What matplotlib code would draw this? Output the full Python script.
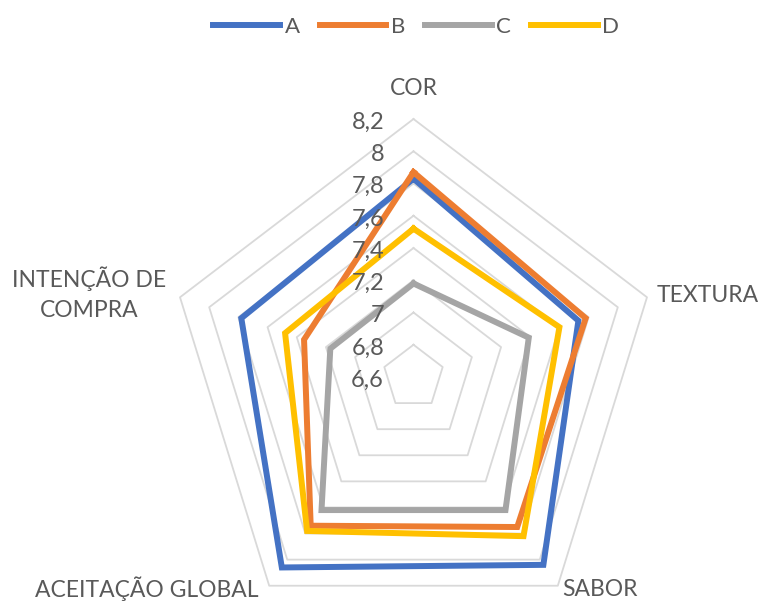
import numpy as np
import matplotlib
matplotlib.use("Agg")
import matplotlib.pyplot as plt

# Sensory attribute scores per sample
categories = ["COR", "TEXTURA", "SABOR", "ACEITAÇÃO GLOBAL", "INTENÇÃO DE\nCOMPRA"]
series_names = ["A", "B", "C", "D"]
scores_a = [7.83, 7.73, 8.04, 8.06, 7.78]
scores_b = [7.87, 7.78, 7.75, 7.74, 7.35]
scores_c = [7.18, 7.39, 7.62, 7.62, 7.17]
scores_d = [7.52, 7.60, 7.82, 7.78, 7.48]
colors = ["#4472C4", "#ED7D31", "#A5A5A5", "#FFC000"]

ticks = [6.6, 6.8, 7.0, 7.2, 7.4, 7.6, 7.8, 8.0, 8.2]
tick_labels = ["6,6", "6,8", "7", "7,2", "7,4", "7,6", "7,8", "8", "8,2"]
vmin, vmax = ticks[0], ticks[-1]

txt_color = "#595959"
plt.rcParams["font.family"] = ["Lato", "DejaVu Sans"]

fig = plt.figure(figsize=(7.64, 6.03), dpi=100)
# axes spans the outer ring; center sits at (413.5, 377) px
W, H = 764, 603
cx, cy, rx, ry = 413.5, 377, 245.5, 258
ax = fig.add_axes([(cx - rx) / W, 1 - (cy + ry) / H, 2 * rx / W, 2 * ry / H])
ax.set_xlim(-1, 1)
ax.set_ylim(-1, 1)
ax.axis("off")

n = len(categories)
theta = np.deg2rad(90 - 72 * np.arange(n))


def to_xy(values):
    r = (np.asarray(values) - vmin) / (vmax - vmin)
    x = r * np.cos(theta)
    y = r * np.sin(theta)
    return np.append(x, x[0]), np.append(y, y[0])


# grid rings
for t in ticks[1:]:
    gx, gy = to_xy([t] * n)
    ax.plot(gx, gy, color="#D9D9D9", lw=1.3, zorder=1, clip_on=False)

# value labels along the vertical axis
for t, lab in zip(ticks, tick_labels):
    r = (t - vmin) / (vmax - vmin)
    ax.text(-0.12, r - 0.012, lab, ha="right", va="center", fontsize=17,
            color=txt_color, zorder=3)

series = [scores_a, scores_b, scores_c, scores_d]
for name, vals, col in zip(series_names, series, colors):
    sx, sy = to_xy(vals)
    ax.plot(sx, sy, color=col, lw=4.3, label=name, zorder=2,
            solid_joinstyle="miter", clip_on=False)

# category labels
fs = 16.5
ax.text(0, 1.12, categories[0], ha="center", va="center", fontsize=fs, color=txt_color)
ax.text(0.99, 0.315, categories[1], ha="left", va="center", fontsize=fs, color=txt_color)
ax.text(0.76, -0.822, categories[2], ha="center", va="center", fontsize=fs, color=txt_color)
ax.text(-1.085, -0.822, categories[3], ha="center", va="center", fontsize=fs, color=txt_color)
ax.text(-1.32, 0.324, categories[4], ha="center", va="center", fontsize=fs,
        color=txt_color, linespacing=1.55)

fig.legend(loc="upper center", bbox_to_anchor=(0.545, 1.005), ncol=4, frameon=False,
           fontsize=16, handlelength=3.0, handletextpad=0.2, columnspacing=0.9,
           labelcolor=txt_color)

fig.savefig("out.png", dpi=100)
